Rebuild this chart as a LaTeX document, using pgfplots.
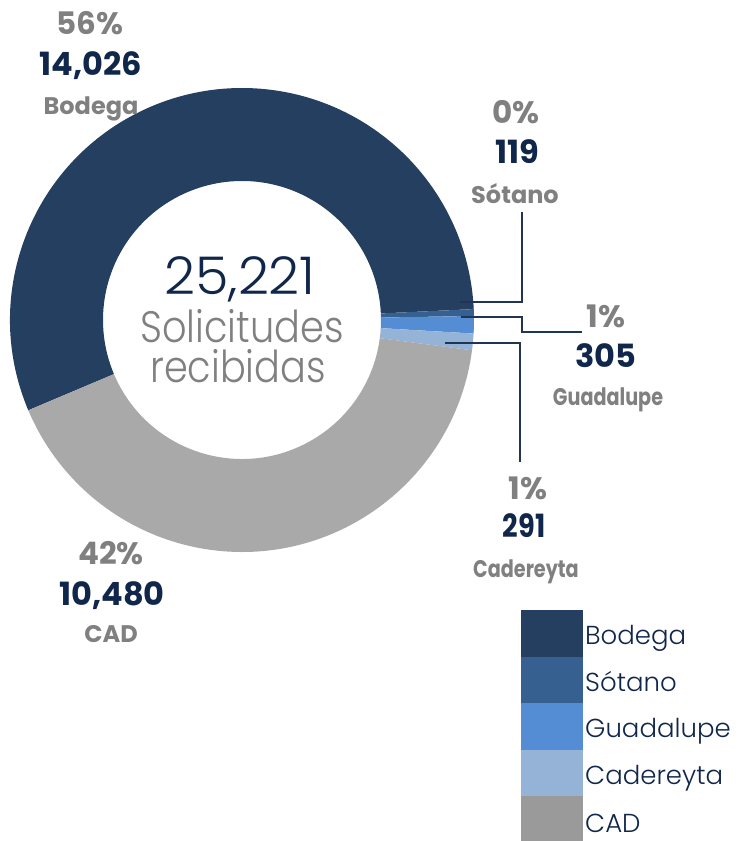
\documentclass[border=0pt]{standalone}
\usepackage{pgfplots}
\pgfplotsset{compat=1.18}
\usepackage{pgfplotstable}
\usepackage{fontspec}
\setmainfont{Poppins}
\newfontfamily\lightfont{Poppins Light}
\definecolor{cBod}{HTML}{253F60}
\definecolor{cSot}{HTML}{35608F}
\definecolor{cGua}{HTML}{548DD4}
\definecolor{cCad}{HTML}{95B3D7}
\definecolor{cCAD}{HTML}{A9A9A9}
\definecolor{cCADleg}{HTML}{9A9A9A}
\definecolor{navy}{HTML}{10264A}
\definecolor{lblgray}{HTML}{808080}
\definecolor{leader}{HTML}{1F3553}

\pgfplotstableread{
name value
Bodega 14026
Sotano 119
Guadalupe 305
Cadereyta 291
CAD 10480
}\datatable

\newcommand\slice[3]{%
  \fill[#3] (axis cs:242,-320) ++(#1:232pt) arc[start angle=#1,end angle=#2,radius=232pt]
    -- ++(#2:-93pt) arc[start angle=#2,end angle=#1,radius=139pt] -- cycle;}

\begin{document}
\begin{tikzpicture}
\pgfplotstablegetelem{0}{value}\of\datatable \pgfmathsetmacro\vA{\pgfplotsretval/1000}
\pgfplotstablegetelem{1}{value}\of\datatable \pgfmathsetmacro\vB{\pgfplotsretval/1000}
\pgfplotstablegetelem{2}{value}\of\datatable \pgfmathsetmacro\vC{\pgfplotsretval/1000}
\pgfplotstablegetelem{3}{value}\of\datatable \pgfmathsetmacro\vD{\pgfplotsretval/1000}
\pgfplotstablegetelem{4}{value}\of\datatable \pgfmathsetmacro\vE{\pgfplotsretval/1000}
\pgfmathsetmacro\total{\vA+\vB+\vC+\vD+\vE}
\pgfmathsetmacro\aO{202.9}
\pgfmathsetmacro\aA{\aO-360*(\vA/\total)}
\pgfmathsetmacro\aB{\aA-360*(\vB/\total)}
\pgfmathsetmacro\aC{\aB-360*(\vC/\total)}
\pgfmathsetmacro\aD{\aC-360*(\vD/\total)}
\pgfmathsetmacro\aE{\aD-360*(\vE/\total)}
\begin{axis}[hide axis, scale only axis, width=740pt, height=841pt,
  xmin=0, xmax=740, ymin=-841, ymax=0, clip=false]
\addplot[draw=none] coordinates {(0,0) (740,-841)};
\slice{\aO}{\aA}{cBod}
\slice{\aA}{\aB}{cSot}
\slice{\aB}{\aC}{cGua}
\slice{\aC}{\aD}{cCad}
\slice{\aD}{\aE}{cCAD}
% leader lines
\draw[leader, line width=1.5pt] (axis cs:460,-302) -- (axis cs:522,-302) -- (axis cs:522,-212);
\draw[leader, line width=1.5pt] (axis cs:461,-317) -- (axis cs:522,-317) -- (axis cs:522,-332) -- (axis cs:582,-332);
\draw[leader, line width=1.5pt] (axis cs:445,-343) -- (axis cs:520,-343) -- (axis cs:520,-462);
% center text
\node[anchor=base, inner sep=0pt, navy, font=\lightfont\fontsize{52}{52}\selectfont] at (axis cs:240,-295) {\scalebox{1.04}[1]{25,221}};
\node[anchor=base, inner sep=0pt, lblgray, font=\lightfont\fontsize{44}{44}\selectfont] at (axis cs:242,-343) {\scalebox{0.87}[1]{Solicitudes}};
\node[anchor=base, inner sep=0pt, lblgray, font=\lightfont\fontsize{44}{44}\selectfont] at (axis cs:238,-383) {\scalebox{0.87}[1]{recibidas}};
% labels
\tikzset{pct/.style={anchor=base, lblgray, font=\bfseries\fontsize{31}{31}\selectfont},
  num/.style={anchor=base, navy, font=\bfseries\fontsize{32}{32}\selectfont},
  nam/.style={anchor=base, lblgray, font=\bfseries\fontsize{24}{24}\selectfont}}
\node[pct] at (axis cs:90,-35) {56\%};
\node[num] at (axis cs:91,-76) {14,026};
\node[nam] at (axis cs:91,-115) {Bodega};
\node[pct] at (axis cs:516,-124) {0\%};
\node[num] at (axis cs:517,-164) {119};
\node[nam] at (axis cs:515,-204) {Sótano};
\node[pct] at (axis cs:606,-328) {1\%};
\node[num] at (axis cs:606,-368) {305};
\node[nam] at (axis cs:608,-406) {\scalebox{0.8}[1]{Guadalupe}};
\node[pct] at (axis cs:528,-500) {1\%};
\node[num] at (axis cs:524,-538) {\scalebox{0.85}[1]{291}};
\node[nam] at (axis cs:526,-578) {\scalebox{0.8}[1]{Cadereyta}};
\node[pct] at (axis cs:111,-565) {42\%};
\node[num] at (axis cs:112,-606) {10,480};
\node[nam] at (axis cs:111,-643) {CAD};
% legend
\fill[cBod] (axis cs:521,-610) rectangle (axis cs:583,-657);
\fill[cSot] (axis cs:521,-657) rectangle (axis cs:583,-703);
\fill[cGua] (axis cs:521,-703) rectangle (axis cs:583,-750);
\fill[cCad] (axis cs:521,-750) rectangle (axis cs:583,-796);
\fill[cCADleg] (axis cs:521,-796) rectangle (axis cs:583,-841);
\tikzset{leg/.style={anchor=base west, navy, font=\lightfont\fontsize{26}{26}\selectfont, inner sep=0pt}}
\node[leg] at (axis cs:585,-645) {Bodega};
\node[leg] at (axis cs:585,-692) {Sótano};
\node[leg] at (axis cs:585,-738) {Guadalupe};
\node[leg] at (axis cs:585,-785) {Cadereyta};
\node[leg] at (axis cs:585,-832) {CAD};
\end{axis}
\pgfresetboundingbox
\useasboundingbox (0,0) rectangle (740pt,841pt);
\end{tikzpicture}
\end{document}
